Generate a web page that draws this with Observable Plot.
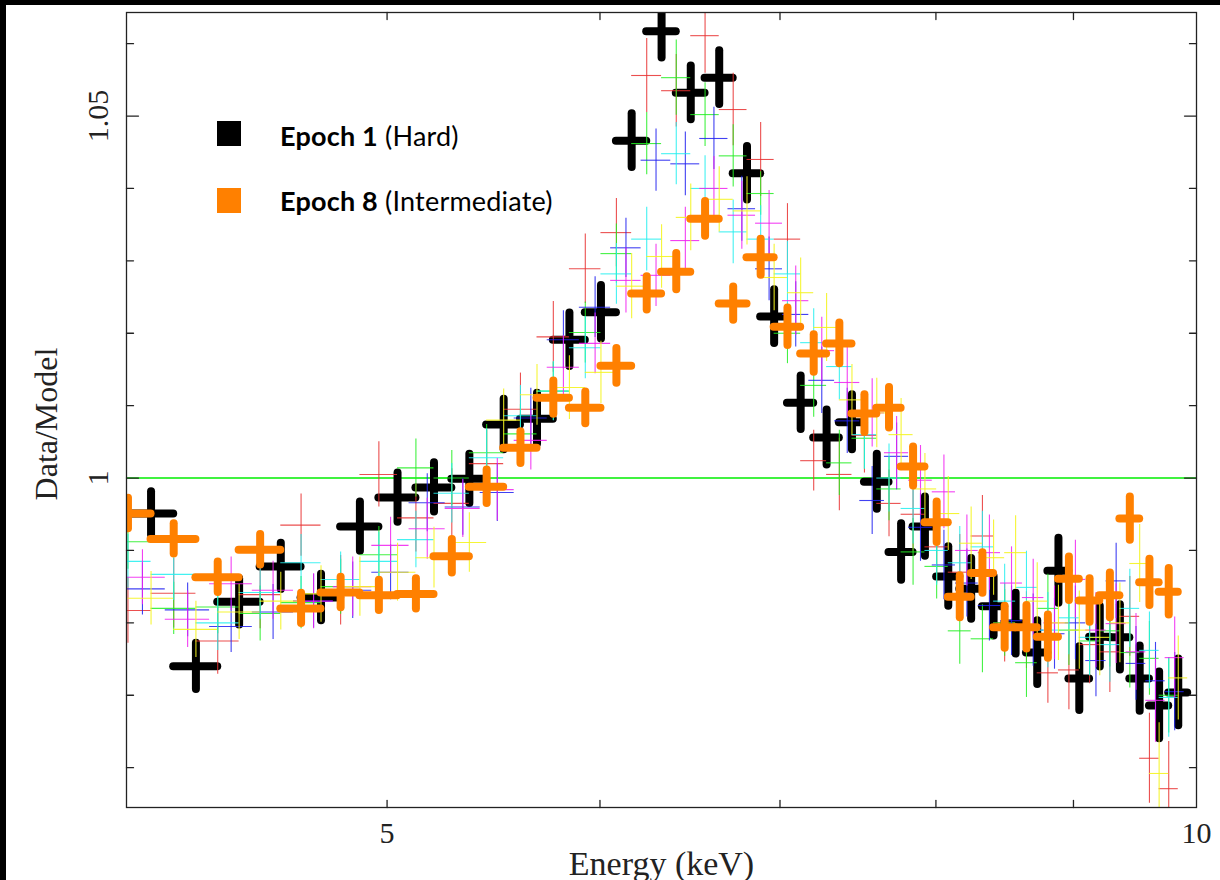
<!DOCTYPE html>
<html><head><meta charset="utf-8">
<script src="https://cdn.jsdelivr.net/npm/d3@7"></script>
<script src="https://cdn.jsdelivr.net/npm/@observablehq/plot@0.6"></script>
<style>
html,body{margin:0;padding:0;background:#000;width:1220px;height:880px;overflow:hidden;}
#wrap{position:absolute;left:6px;top:5px;width:1214px;height:875px;background:#fff;}
.sw{position:absolute;width:24px;height:25px;}
.lg{position:absolute;left:280px;font-family:Lato,sans-serif;font-size:27px;line-height:32px;color:#000;white-space:nowrap;letter-spacing:0.2px;}
.lg b{font-weight:700;}
</style></head><body>
<div id="wrap"></div>
<div class="sw" style="left:217px;top:121px;background:#000"></div>
<div class="lg" style="top:120px"><b>Epoch 1</b> (Hard)</div>
<div class="sw" style="left:217px;top:188px;background:#ff8000"></div>
<div class="lg" style="top:185px"><b>Epoch 8</b> (Intermediate)</div>
<script>
// ---- data (energies in keV, Data/Model ratios and 1-sigma errors) ----
const binHalfWidth = 0.08;
const gridA = [4.085,4.245,4.405,4.565,4.725,4.885,5.045,5.205,5.365,5.525,5.685,5.845,6.005,6.165,6.325,6.485,6.645,6.805,6.965,7.125,7.285,7.445,7.605,7.765,7.925,8.085,8.245,8.405,8.565,8.725,8.885,9.045,9.205,9.365,9.525,9.685,9.845];
const gridB = [4.005,4.165,4.325,4.485,4.645,4.805,4.965,5.125,5.285,5.445,5.605,5.765,5.925,6.085,6.245,6.405,6.565,6.725,6.885,7.045,7.205,7.365,7.525,7.685,7.845,8.005,8.165,8.325,8.485,8.645,8.805,8.965,9.125,9.285,9.445,9.605,9.765];
const gridC = [4.055,4.215,4.375,4.535,4.695,4.855,5.015,5.175,5.335,5.495,5.655,5.815,5.975,6.135,6.295,6.455,6.615,6.775,6.935,7.095,7.255,7.415,7.575,7.735,7.895,8.055,8.215,8.375,8.535,8.695,8.855,9.015,9.175,9.335,9.495,9.655,9.815];

const e1Ratio = [0.9951,0.9740,0.9829,0.9878,0.9835,0.9933,0.9973,0.9987,0.9999,1.0074,1.0082,1.0191,1.0229,1.0466,1.0617,1.0532,1.0553,1.0421,1.0223,1.0104,1.0056,1.0077,0.9995,0.9898,0.9933,0.9864,0.9847,0.9823,0.9799,0.9759,0.9872,0.9723,0.9781,0.9780,0.9723,0.9686,0.9704];
const e1Err = [0.0030,0.0032,0.0032,0.0032,0.0032,0.0034,0.0034,0.0034,0.0034,0.0035,0.0035,0.0037,0.0037,0.0037,0.0037,0.0037,0.0037,0.0037,0.0037,0.0037,0.0038,0.0038,0.0038,0.0039,0.0041,0.0041,0.0042,0.0041,0.0042,0.0044,0.0045,0.0044,0.0042,0.0045,0.0045,0.0046,0.0046];

const e2Ratio = [0.9817,0.9841,0.9775,0.9839,0.9935,0.9845,1.0005,0.9945,0.9965,1.0020,1.0095,1.0195,1.0289,1.0339,1.0556,1.0535,1.0611,1.0509,1.0440,1.0330,1.0024,1.0005,1.0059,0.9965,0.9950,0.9905,0.9870,0.9920,0.9800,0.9790,0.9731,0.9735,0.9770,0.9760,0.9809,0.9613,0.9571];
const e2Err = [0.0045,0.0048,0.0046,0.0047,0.0043,0.0048,0.0045,0.0047,0.0048,0.0046,0.0050,0.0049,0.0048,0.0047,0.0051,0.0050,0.0052,0.0050,0.0051,0.0049,0.0042,0.0050,0.0052,0.0046,0.0051,0.0050,0.0052,0.0056,0.0054,0.0053,0.0042,0.0055,0.0054,0.0056,0.0055,0.0062,0.0065];

const e3Ratio = [0.9912,0.9820,0.9822,0.9813,0.9828,0.9850,0.9894,1.0014,1.0000,1.0035,1.0061,1.0120,1.0201,1.0310,1.0462,1.0553,1.0502,1.0445,1.0393,1.0200,1.0128,1.0021,1.0055,0.9985,0.9898,0.9878,0.9789,0.9778,0.9800,0.9745,0.9820,0.9790,0.9775,0.9789,0.9759,0.9751,0.9700];
const e3Err = [0.0038,0.0036,0.0037,0.0038,0.0036,0.0038,0.0039,0.0040,0.0038,0.0039,0.0041,0.0040,0.0042,0.0041,0.0043,0.0052,0.0044,0.0043,0.0030,0.0042,0.0044,0.0045,0.0043,0.0044,0.0046,0.0045,0.0046,0.0047,0.0046,0.0048,0.0047,0.0049,0.0048,0.0050,0.0049,0.0051,0.0052];

const e4Ratio = [0.9847,0.9818,0.9795,0.9815,0.9830,0.9845,0.9870,0.9966,0.9960,0.9980,1.0083,1.0191,1.0236,1.0318,1.0439,1.0434,1.0469,1.0372,1.0289,1.0226,1.0135,1.0079,0.9969,1.0030,0.9932,0.9880,0.9855,0.9824,0.9803,0.9790,0.9785,0.9800,0.9748,0.9858,0.9744,0.9720,0.9705];
const e4Err = [0.0036,0.0037,0.0036,0.0038,0.0037,0.0039,0.0038,0.0040,0.0039,0.0040,0.0041,0.0040,0.0042,0.0041,0.0043,0.0044,0.0043,0.0045,0.0044,0.0045,0.0046,0.0045,0.0047,0.0046,0.0047,0.0048,0.0047,0.0049,0.0048,0.0050,0.0049,0.0051,0.0050,0.0052,0.0051,0.0053,0.0054];

const e5Ratio = [0.9885,0.9867,0.9800,0.9842,0.9883,0.9860,0.9885,0.9915,0.9979,1.0028,1.0086,1.0120,1.0180,1.0282,1.0330,1.0448,1.0400,1.0340,1.0330,1.0282,1.0187,1.0154,1.0060,1.0000,0.9958,0.9900,0.9883,0.9905,0.9830,0.9849,0.9790,0.9807,0.9780,0.9770,0.9820,0.9762,0.9697];
const e5Err = [0.0037,0.0036,0.0038,0.0037,0.0039,0.0038,0.0040,0.0039,0.0041,0.0040,0.0042,0.0041,0.0043,0.0042,0.0044,0.0043,0.0045,0.0044,0.0046,0.0045,0.0047,0.0046,0.0048,0.0047,0.0049,0.0048,0.0050,0.0049,0.0051,0.0050,0.0052,0.0051,0.0053,0.0052,0.0054,0.0053,0.0055];

const e6Ratio = [0.9863,0.9805,0.9854,0.9845,0.9830,0.9850,0.9907,0.9930,0.9958,0.9984,1.0052,1.0153,1.0186,1.0273,1.0280,1.0328,1.0400,1.0363,1.0352,1.0245,1.0176,1.0132,1.0090,1.0035,0.9997,0.9981,0.9900,0.9897,0.9855,0.9835,0.9800,0.9860,0.9790,0.9799,0.9760,0.9693,0.9752];
const e6Err = [0.0038,0.0039,0.0037,0.0040,0.0038,0.0041,0.0039,0.0042,0.0040,0.0043,0.0041,0.0044,0.0042,0.0045,0.0043,0.0046,0.0044,0.0047,0.0045,0.0048,0.0046,0.0049,0.0047,0.0050,0.0048,0.0051,0.0049,0.0052,0.0050,0.0053,0.0051,0.0054,0.0052,0.0055,0.0053,0.0058,0.0056];

const e7Ratio = [0.9834,0.9791,0.9815,0.9830,0.9840,0.9850,0.9870,0.9890,0.9911,1.0080,1.0115,1.0125,1.0146,1.0265,1.0306,1.0360,1.0385,1.0369,1.0277,1.0256,1.0208,1.0108,1.0090,1.0060,0.9985,0.9951,0.9910,0.9890,0.9897,0.9830,0.9800,0.9790,0.9780,0.9800,0.9882,0.9592,0.9724];
const e7Err = [0.0037,0.0039,0.0038,0.0040,0.0039,0.0041,0.0040,0.0042,0.0041,0.0043,0.0042,0.0044,0.0043,0.0045,0.0044,0.0046,0.0045,0.0047,0.0046,0.0048,0.0047,0.0049,0.0048,0.0050,0.0049,0.0051,0.0050,0.0052,0.0051,0.0053,0.0052,0.0054,0.0053,0.0055,0.0054,0.0070,0.0058];

const e8Ratio = [0.9951,0.9916,0.9863,0.9901,0.9820,0.9842,0.9838,0.9840,0.9892,0.9988,1.0042,1.0111,1.0097,1.0155,1.0255,1.0285,1.0358,1.0241,1.0305,1.0209,1.0172,1.0186,1.0089,1.0097,1.0016,0.9939,0.9836,0.9869,0.9794,0.9794,0.9781,0.9861,0.9831,0.9838,0.9944,0.9856,0.9843];
const e8Err = [0.0021,0.0021,0.0021,0.0021,0.0021,0.0021,0.0021,0.0021,0.0023,0.0023,0.0022,0.0023,0.0022,0.0024,0.0023,0.0025,0.0024,0.0023,0.0025,0.0026,0.0026,0.0028,0.0026,0.0028,0.0027,0.0028,0.0029,0.0028,0.0029,0.0030,0.0030,0.0030,0.0030,0.0031,0.0030,0.0032,0.0032];

const xTicks = [5, 6, 7, 8, 9];
const xTickLabels = [5, 10];
const yMajorTicks = [1.00, 1.05];
const yMinorTicks = [0.96, 0.97, 0.98, 0.99, 1.01, 1.02, 1.03, 1.04, 1.06];
const yTickLabels = [1, 1.05];

// ---- build ----
function rows(energy, ratio, err) {
  return energy.map((e, i) => ({e, lo: e - binHalfWidth, hi: e + binHalfWidth, r: ratio[i], rlo: ratio[i] - err[i], rhi: ratio[i] + err[i]}));
}
function crosses(data, color, width, cap, op) {
  return [
    Plot.ruleY(data, {y: "r", x1: "lo", x2: "hi", stroke: color, strokeWidth: width, strokeLinecap: cap, strokeOpacity: op, clip: true}),
    Plot.ruleX(data, {x: "e", y1: "rlo", y2: "rhi", stroke: color, strokeWidth: width, strokeLinecap: cap, strokeOpacity: op, clip: true})
  ];
}
const series = [
  {d: rows(gridA, e1Ratio, e1Err), c: "#000000", w: 8, cap: "round", op: 1},
  {d: rows(gridB, e2Ratio, e2Err), c: "#e83030", w: 1.1, cap: "butt", op: 0.85},
  {d: rows(gridB, e3Ratio, e3Err), c: "#22ee22", w: 1.1, cap: "butt", op: 0.85},
  {d: rows(gridC, e4Ratio, e4Err), c: "#2020f0", w: 1.1, cap: "butt", op: 0.85},
  {d: rows(gridB, e5Ratio, e5Err), c: "#22eeee", w: 1.1, cap: "butt", op: 0.85},
  {d: rows(gridC, e6Ratio, e6Err), c: "#f020f0", w: 1.1, cap: "butt", op: 0.85},
  {d: rows(gridA, e7Ratio, e7Err), c: "#f4f420", w: 1.1, cap: "butt", op: 0.9},
  {d: rows(gridB, e8Ratio, e8Err), c: "#ff8000", w: 8, cap: "round", op: 1}
];

const tickL = {draw(c, l) { c.moveTo(0, 0); c.lineTo(l, 0); }};
const tickR = {draw(c, l) { c.moveTo(0, 0); c.lineTo(-l, 0); }};
const tickB = {draw(c, l) { c.moveTo(0, 0); c.lineTo(0, -l); }};
const tickT = {draw(c, l) { c.moveTo(0, 0); c.lineTo(0, l); }};
const tk = {stroke: "#222", strokeWidth: 1.3};
const serif = "'Liberation Serif', 'Times New Roman', serif";

const chart = Plot.plot({
  width: 1214, height: 875,
  marginLeft: 120, marginRight: 24, marginTop: 7, marginBottom: 73,
  style: {background: "#fff"},
  x: {type: "log", domain: [4, 10], axis: null},
  y: {domain: [0.9545, 1.0643], axis: null},
  marks: [
    Plot.ruleY([1], {stroke: "#00ee00", strokeWidth: 1.5}),
    ...series.flatMap(s => crosses(s.d, s.c, s.w, s.cap, s.op)),
    Plot.frame({stroke: "#222", strokeWidth: 1.3}),
    Plot.vector(yMajorTicks, {y: d => d, frameAnchor: "left", length: 12, shape: tickL, anchor: "start", ...tk}),
    Plot.vector(yMinorTicks, {y: d => d, frameAnchor: "left", length: 7, shape: tickL, anchor: "start", ...tk}),
    Plot.vector(yMajorTicks, {y: d => d, frameAnchor: "right", length: 12, shape: tickR, anchor: "start", ...tk}),
    Plot.vector(yMinorTicks, {y: d => d, frameAnchor: "right", length: 7, shape: tickR, anchor: "start", ...tk}),
    Plot.vector(xTicks, {x: d => d, frameAnchor: "bottom", length: 7, shape: tickB, anchor: "start", ...tk}),
    Plot.vector(xTicks, {x: d => d, frameAnchor: "top", length: 7, shape: tickT, anchor: "start", ...tk}),
    Plot.text(xTickLabels, {x: d => d, text: d => String(d), frameAnchor: "bottom", dy: 35, lineAnchor: "bottom", fontFamily: serif, fontSize: 30, fill: "#222"}),
    Plot.text(yTickLabels, {y: d => d, text: d => String(d), frameAnchor: "left", dx: -19, rotate: -90, lineAnchor: "bottom", textAnchor: "middle", fontFamily: serif, fontSize: 30, fill: "#222"}),
    Plot.text(["Energy (keV)"], {text: d => d, frameAnchor: "bottom", dy: 67, lineAnchor: "bottom", textAnchor: "middle", fontFamily: serif, fontSize: 34, fill: "#222"}),
    Plot.text(["Data/Model"], {text: d => d, frameAnchor: "left", rotate: -90, dx: -70, dy: 14, lineAnchor: "bottom", textAnchor: "middle", fontFamily: serif, fontSize: 32, fill: "#222"})
  ]
});
document.getElementById("wrap").appendChild(chart);
</script>
</body></html>
